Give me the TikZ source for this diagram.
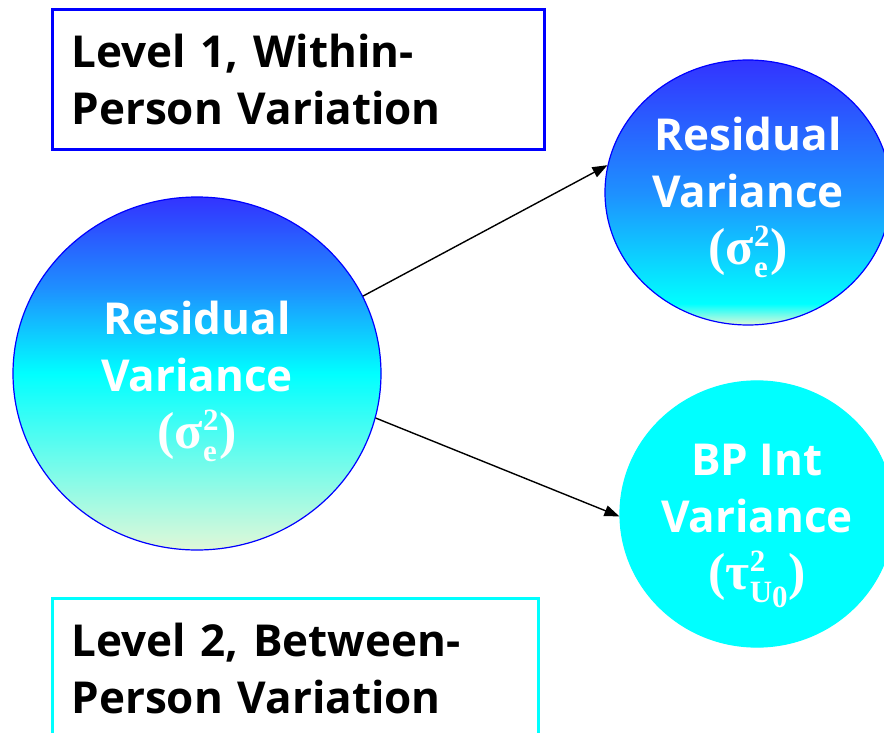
\documentclass[tikz,border=0pt]{standalone}
\usepackage{fix-cm}
\usepackage{fontspec}
\setmainfont{Open Sans}
\newfontfamily\symfont{Liberation Serif}
\usetikzlibrary{arrows.meta,shapes.geometric}
\definecolor{deepblue}{HTML}{3333FF}
\definecolor{skyblue}{HTML}{1E90FF}
\definecolor{aqua}{HTML}{00FFFF}
\definecolor{mint}{HTML}{E0F8D8}
\definecolor{edgeblue}{HTML}{0000FF}
\pgfdeclareverticalshading{lvlshade}{100bp}{color(0bp)=(mint); color(25bp)=(mint);
  color(50bp)=(aqua); color(62bp)=(skyblue); color(75bp)=(deepblue); color(100bp)=(deepblue)}
\pgfdeclareverticalshading{resshade}{100bp}{color(0bp)=(mint); color(25bp)=(mint);
  color(29bp)=(aqua); color(50bp)=(skyblue); color(75bp)=(deepblue); color(100bp)=(deepblue)}
\newcommand{\toppad}[1]{\rule{0pt}{#1}}
% (symbol^sup_sub) in bold serif
\newcommand{\scr}{\symfont\bfseries\fontsize{31}{31}\selectfont}
\newcommand{\varsym}[3]{{\symfont\bfseries\fontsize{52}{57}\selectfont(%
  $\mbox{#1}^{\mbox{\scr #2}}_{\mbox{\scr #3}}$)}}

\begin{document}
\begin{tikzpicture}[x=1pt, y=-1pt,
  lvl/.style={draw, line width=3pt, anchor=north west, align=left, inner xsep=19pt, inner ysep=0pt,
              minimum height=140pt, font=\fontsize{44}{57}\selectfont\bfseries},
  var/.style={ellipse, draw=edgeblue, line width=1.2pt, inner sep=0pt, align=center, text=white,
              font=\fontsize{44}{57}\selectfont\bfseries},
  arr/.style={-{Triangle[length=15pt, width=11pt]}, line width=1.4pt}]
  \clip (0,0) rectangle (884,733);
  \node[lvl, draw=edgeblue, text width=454pt] (within) at (51,8) {Level 1, Within-\\Person Variation};
  \node[lvl, draw=aqua, text width=448pt] (between) at (51,597) {Level 2, Between-\\Person Variation};
  \node[var, shading=lvlshade, minimum width=368pt, minimum height=353pt] (res1) at (197,373.5)
    {\toppad{50pt}Residual\\Variance\\\varsym{σ}{2}{e}};
  \node[var, shading=resshade, minimum width=286pt, minimum height=265pt] (res2) at (748,192.5)
    {\toppad{44pt}Residual\\Variance\\\varsym{σ}{2}{e}};
  \node[var, draw=aqua, fill=aqua, minimum width=274pt, minimum height=252pt] (bpint) at (757,514)
    {\toppad{56pt}BP Int\\Variance\\\varsym{τ}{2}{U\raisebox{-5pt}{0}}};
  \draw[arr] (res1.25.9) -- (res2.169);
  \draw[arr] (res1.-14.8) -- (bpint.181.3);
\end{tikzpicture}
\end{document}
